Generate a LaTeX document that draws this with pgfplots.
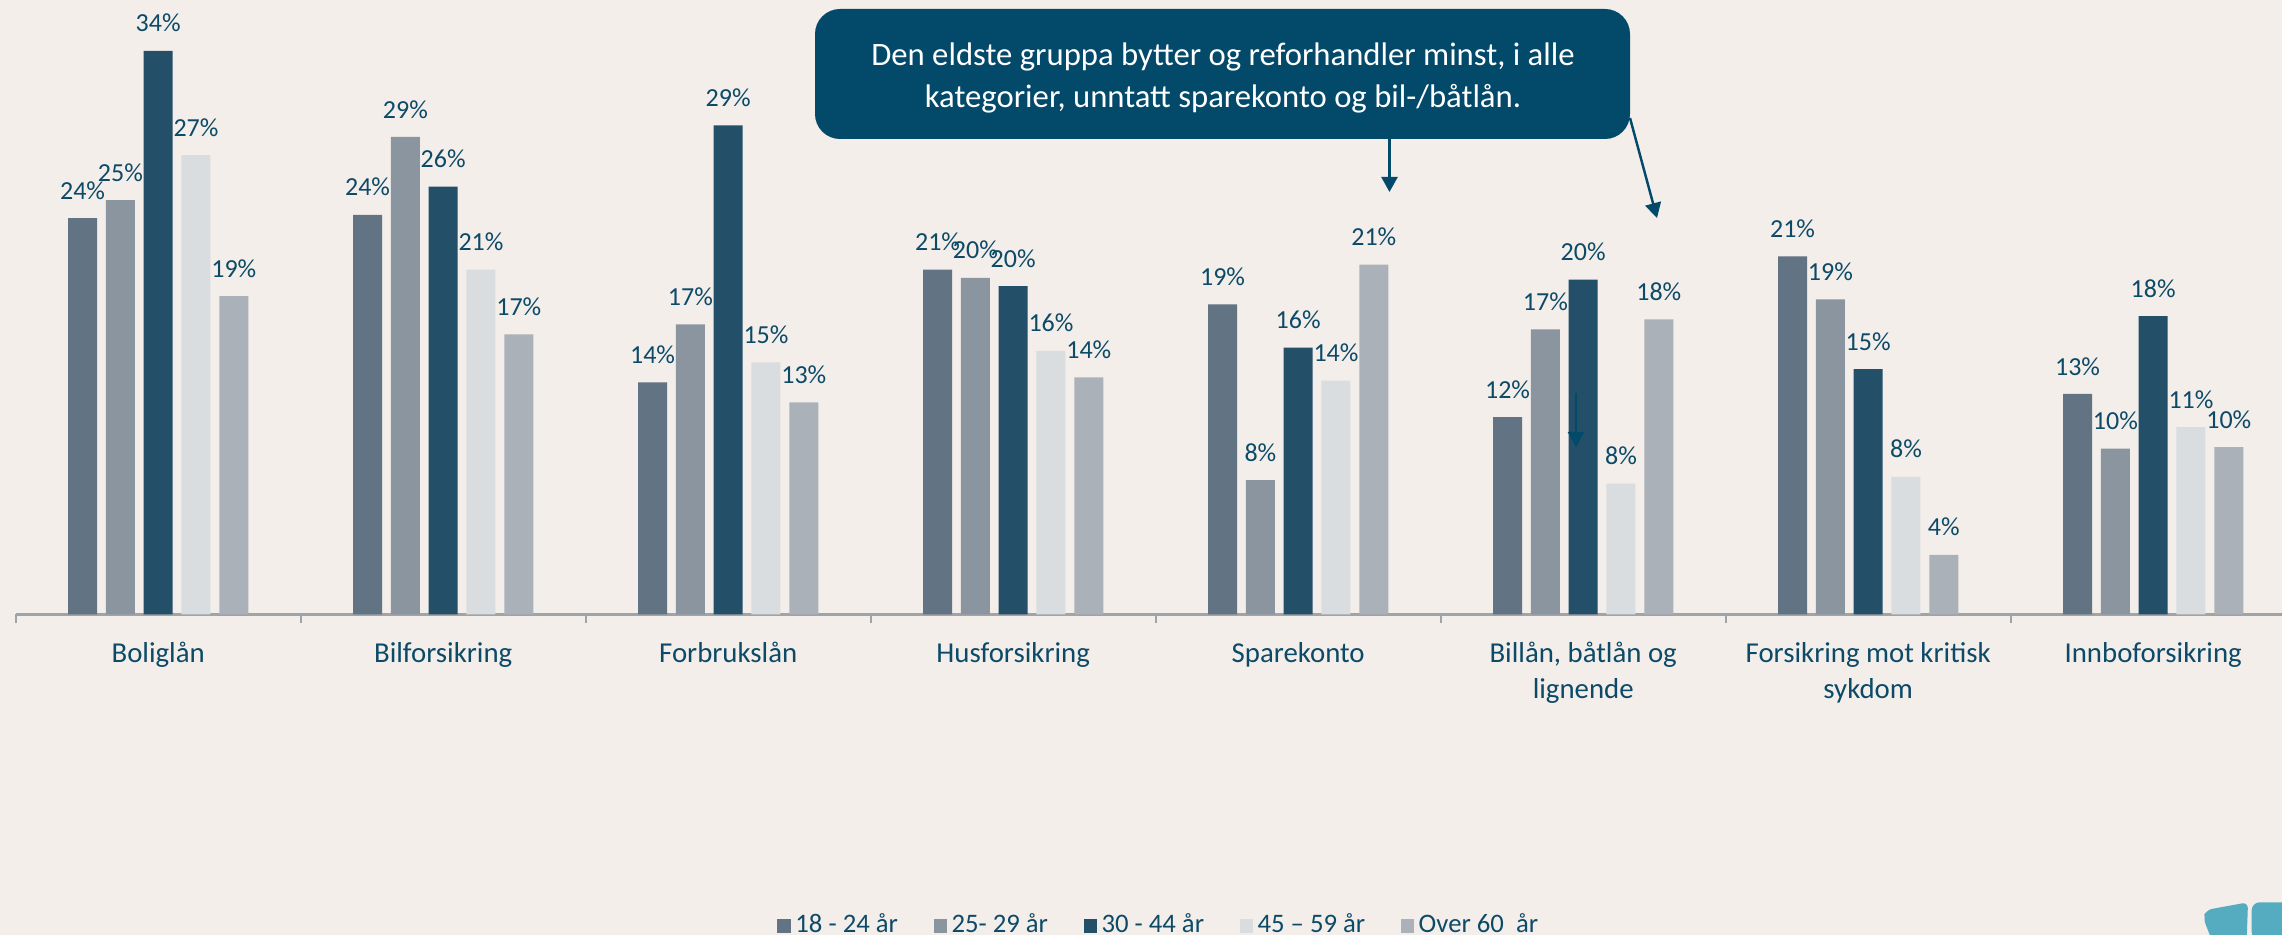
\documentclass[border=0pt]{standalone}
\usepackage{pgfplots}
\pgfplotsset{compat=1.18}
\usepackage{pgfplotstable}
\usetikzlibrary{arrows.meta}
\usepackage{fontspec}
\setmainfont{Carlito}
\definecolor{bg}{HTML}{F3EEEA}
\definecolor{cA}{HTML}{627384}
\definecolor{cB}{HTML}{8A95A0}
\definecolor{cC}{HTML}{234F69}
\definecolor{cD}{HTML}{DADDE0}
\definecolor{cE}{HTML}{ABB1B8}
\definecolor{txt}{HTML}{0C4A68}
\definecolor{boxc}{HTML}{03496A}
\definecolor{axisgray}{HTML}{9FA4A9}
\definecolor{logo}{HTML}{55ACC0}

% x: category index; a..e: bar heights; la..le: printed labels
\pgfplotstableread{
x a la b lb c lc d ld e le
0 23.9 24 25.0 25 34.0 34 27.7 27 19.2 19
1 24.1 24 28.8 29 25.8 26 20.8 21 16.9 17
2 14.0 14 17.5 17 29.5 29 15.2 15 12.8 13
3 20.8 21 20.3 20 19.8 20 15.9 16 14.3 14
4 18.7 19 8.1 8 16.1 16 14.1 14 21.1 21
5 11.9 12 17.2 17 20.2 20 7.9 8 17.8 18
6 21.6 21 19.0 19 14.8 15 8.3 8 3.6 4
7 13.3 13 10.0 10 18.0 18 11.3 11 10.1 10
}\data

\begin{document}
\begin{tikzpicture}
\fill[bg] (0,0) rectangle (22.82,9.35);
\useasboundingbox (0,0) rectangle (22.82,9.35);

\begin{axis}[
  at={(0.157cm,3.205cm)}, anchor=south west,
  scale only axis, width=22.8cm, height=5.803cm,
  xmin=-0.5, xmax=7.5, ymin=0, ymax=35,
  enlargelimits=false, clip=false,
  axis x line*=bottom, axis y line=none,
  x axis line style={-, axisgray, line width=0.6pt},
  xtick={0,...,7},
  xticklabels={Boliglån, Bilforsikring, Forbrukslån, Husforsikring, Sparekonto, {Billån, båtlån og\\lignende}, {Forsikring mot kritisk\\sykdom}, Innboforsikring},
  major tick length=0pt,
  minor xtick={-0.5,0.5,...,7.5},
  minor tick length=0.09cm,
  tick align=outside,
  minor tick style={axisgray, line width=0.6pt},
  xticklabel style={font=\fontsize{8.2}{10.2}\selectfont, text=txt, align=center, anchor=north, inner sep=0pt, yshift=-0.27cm},
  ybar=0.088cm, bar width=0.29cm,
  point meta=explicit symbolic,
  nodes near coords={\pgfplotspointmeta\%},
  every node near coord/.append style={font=\fontsize{7.4}{9}\selectfont, text=txt, anchor=base, inner sep=0pt, yshift=5.4pt},
  legend columns=5,
  legend image code/.code={\fill[#1] (0cm,-0.07cm) rectangle (0.135cm,0.07cm);},
  legend style={at={(0.5019,-0.536)}, anchor=center, draw=none, fill=none,
    font=\fontsize{7.6}{9}\selectfont, text=txt,
    nodes={inner xsep=0.045cm, inner ysep=0pt},
    /tikz/every even column/.append style={column sep=0.31cm}},
]
\addplot[fill=cA, draw=none] table[x=x, y=a, meta=la] {\data};
\addplot[fill=cB, draw=none] table[x=x, y=b, meta=lb] {\data};
\addplot[fill=cC, draw=none] table[x=x, y=c, meta=lc] {\data};
\addplot[fill=cD, draw=none] table[x=x, y=d, meta=ld] {\data};
\addplot[fill=cE, draw=none] table[x=x, y=e, meta=le] {\data};
\legend{18 - 24 år, 25- 29 år, 30 - 44 år, 45 – 59 år, Over 60\ \ år}
\end{axis}

% callout
\fill[boxc, rounded corners=0.25cm] (8.15,7.96) rectangle (16.30,9.26);
\node[text=white, align=center, font=\fontsize{9.3}{12}\selectfont, inner sep=0pt] at (12.23,8.57)
  {Den eldste gruppa bytter og reforhandler minst, i alle\\kategorier, unntatt sparekonto og bil-/båtlån.};
\draw[boxc, line width=0.7pt, -{Triangle[length=0.15cm, width=0.16cm]}] (13.895,7.96) -- (13.895,7.43);
\draw[boxc, line width=0.7pt, -{Triangle[length=0.15cm, width=0.16cm]}] (16.30,8.17) -- (16.57,7.17);
\draw[boxc, line width=0.7pt, -{Triangle[length=0.15cm, width=0.16cm]}] (15.76,5.42) -- (15.76,4.88);

% logo fragment
\fill[logo, rounded corners=0.06cm] (22.117,-0.05) -- (22.033,0.167) -- (22.06,0.25) -- (22.48,0.327) -- (22.467,-0.05) -- cycle;
\fill[logo, rounded corners=0.08cm] (22.517,-0.05) -- (22.517,0.327) -- (22.9,0.327) -- (22.9,-0.05) -- cycle;
\end{tikzpicture}
\end{document}
